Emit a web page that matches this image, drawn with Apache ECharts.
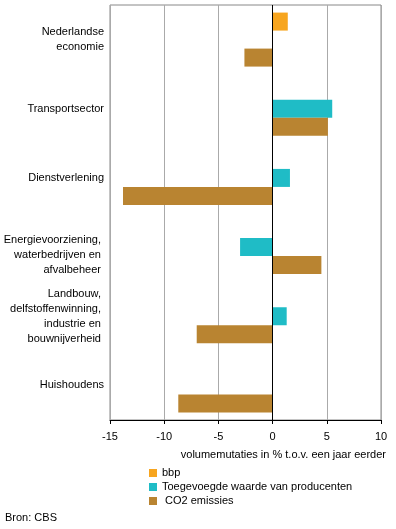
<!DOCTYPE html>
<html>
<head>
<meta charset="utf-8">
<script src="https://cdn.jsdelivr.net/npm/echarts@6/dist/echarts.min.js"></script>
<style>
  html, body { margin: 0; padding: 0; background: #fff; }
  #chart { width: 396px; height: 529px; }
</style>
</head>
<body>
<div id="chart"></div>
<script>
  // sectoren, van boven naar beneden
  var sectoren = [
    'Nederlandse\neconomie',
    'Transportsector',
    'Dienstverlening',
    '\nEnergievoorziening, \nwaterbedrijven en \nafvalbeheer ',
    'Landbouw, \ndelfstoffenwinning, \nindustrie en \nbouwnijverheid ',
    'Huishoudens'
  ]
  var bbp = [1.4, null, null, null, null, null]
  var toegevoegdeWaarde = [null, 5.5, 1.6, -3.0, 1.3, null]
  var co2Emissies = [-2.6, 5.1, -13.8, 4.5, -7.0, -8.7]
  var xTicks = [-15, -10, -5, 0, 5, 10]

  var font = 'Arial, "Liberation Sans", sans-serif'

  var chart = echarts.init(document.getElementById('chart'))
  var option = {
    animation: false,
    textStyle: { fontFamily: font, fontSize: 11, color: '#000' },
    grid: {
      left: 110, right: 15, top: 5, height: 415,
      show: true, borderColor: '#888', borderWidth: 1
    },
    legend: {
      orient: 'vertical',
      left: 144, top: 461,
      icon: 'rect',
      itemWidth: 8, itemHeight: 8,
      itemGap: 0, itemTextGap: 3,
      textStyle: { fontFamily: font, fontSize: 11, color: '#000', lineHeight: 14 },
      data: ['bbp', 'Toegevoegde waarde van producenten', ' CO2 emissies']
    },
    xAxis: {
      type: 'value',
      min: xTicks[0], max: xTicks[xTicks.length - 1], interval: 5,
      axisLine: { show: true, onZero: false, lineStyle: { color: '#000', width: 1 } },
      axisTick: { show: true, length: 4, lineStyle: { color: '#000' } },
      axisLabel: { margin: 11, fontFamily: font, fontSize: 11, color: '#000' },
      splitLine: { show: true, lineStyle: { color: '#aaa', width: 1 } }
    },
    yAxis: {
      type: 'category',
      inverse: true,
      data: sectoren,
      axisLine: { show: false },
      axisTick: { show: false },
      axisLabel: { margin: 6, fontFamily: font, fontSize: 11, color: '#000', lineHeight: 15, align: 'right' }
    },
    series: [
      {
        name: 'bbp', type: 'bar', data: bbp,
        barWidth: 18, barGap: '0%',
        itemStyle: { color: '#F7A51F' }
      },
      {
        name: 'Toegevoegde waarde van producenten', type: 'bar', data: toegevoegdeWaarde,
        barWidth: 18, barGap: '0%',
        itemStyle: { color: '#1FBCC6' }
      },
      {
        name: ' CO2 emissies', type: 'bar', data: co2Emissies,
        barWidth: 18, barGap: '0%',
        itemStyle: { color: '#B98431' },
        markLine: {
          silent: true, symbol: 'none',
          label: { show: false },
          lineStyle: { color: '#000', width: 1, type: 'solid' },
          data: [{ xAxis: 0 }]
        }
      }
    ],
    graphic: [
      {
        type: 'text', right: 10, top: 449,
        style: { text: 'volumemutaties in % t.o.v. een jaar eerder', font: '11px ' + font, fill: '#000' }
      },
      {
        type: 'text', left: 5, top: 512,
        style: { text: 'Bron: CBS', font: '11px ' + font, fill: '#000' }
      }
    ]
  }
  chart.setOption(option)
  window.addEventListener('resize', function () {
    chart.resize()
  })
</script>
</body>
</html>
